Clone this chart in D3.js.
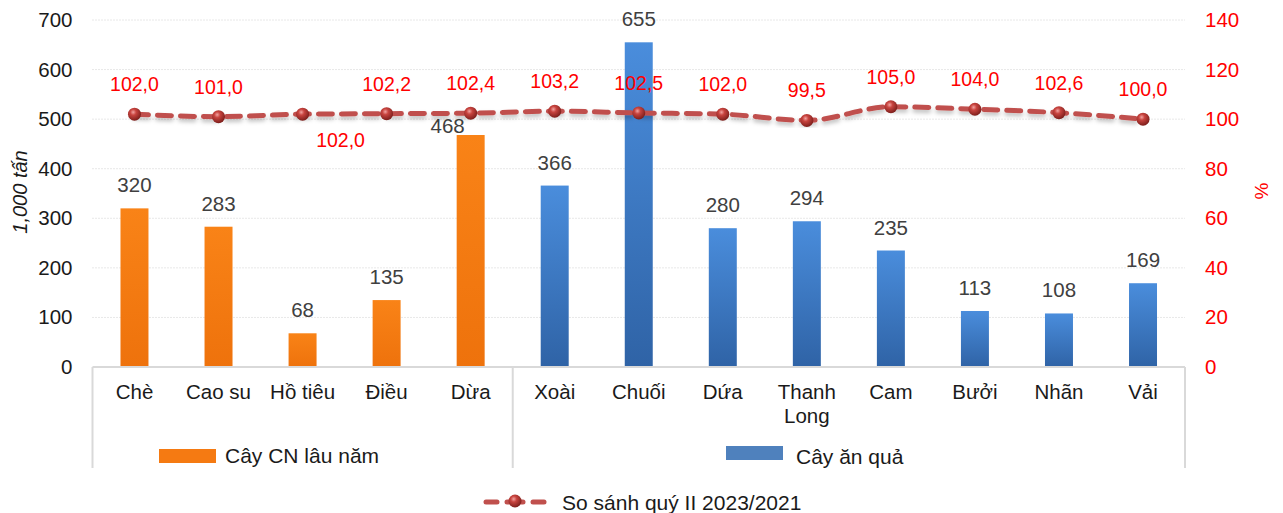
<!DOCTYPE html>
<html>
<head>
<meta charset="utf-8">
<script src="https://cdn.jsdelivr.net/npm/d3@7"></script>
<style>
  html, body { margin: 0; padding: 0; background: #fff; }
  svg { display: block; font-family: "Liberation Sans", Arial, sans-serif; }
</style>
</head>
<body>
<svg id="chart" width="1283" height="513"></svg>
<script>
// Sản lượng một số cây lâu năm, quý II 2023
const categories = ["Chè", "Cao su", "Hồ tiêu", "Điều", "Dừa", "Xoài", "Chuối", "Dứa", "Thanh Long", "Cam", "Bưởi", "Nhãn", "Vải"];
const groups = ["cn", "cn", "cn", "cn", "cn", "qua", "qua", "qua", "qua", "qua", "qua", "qua", "qua"];
const production = [320, 283, 68, 135, 468, 366, 655, 280, 294, 235, 113, 108, 169];
const comparison = [102.0, 101.0, 102.0, 102.2, 102.4, 103.2, 102.5, 102.0, 99.5, 105.0, 104.0, 102.6, 100.0];
const leftTicks = [0, 100, 200, 300, 400, 500, 600, 700];
const rightTicks = [0, 20, 40, 60, 80, 100, 120, 140];
const groupLabels = ["Cây CN lâu năm", "Cây ăn quả"];
const lineLabel = "So sánh quý II 2023/2021";

const svg = d3.select("#chart");
const margin = { left: 92.5, right: 1185, top: 20, bottom: 367 };

const x = d3.scaleBand().domain(categories).range([margin.left, margin.right]).paddingInner(0.667).paddingOuter(0.333);
const yL = d3.scaleLinear().domain([0, 700]).range([margin.bottom, margin.top]);
const yR = d3.scaleLinear().domain([0, 140]).range([margin.bottom, margin.top]);
const cx = d => x(d) + x.bandwidth() / 2;
const step = x.step();

const defs = svg.append("defs");
const gOr = defs.append("linearGradient").attr("id", "gOrange").attr("x1", 0).attr("y1", 0).attr("x2", 0).attr("y2", 1);
gOr.append("stop").attr("offset", "0%").attr("stop-color", "#F98317");
gOr.append("stop").attr("offset", "100%").attr("stop-color", "#EE720C");
const gBl = defs.append("linearGradient").attr("id", "gBlue").attr("x1", 0).attr("y1", 0).attr("x2", 0).attr("y2", 1);
gBl.append("stop").attr("offset", "0%").attr("stop-color", "#4A8DDC");
gBl.append("stop").attr("offset", "100%").attr("stop-color", "#2F63A6");
const gBall = defs.append("radialGradient").attr("id", "gBall").attr("cx", "40%").attr("cy", "35%").attr("r", "65%");
gBall.append("stop").attr("offset", "0%").attr("stop-color", "#F2A3A1");
gBall.append("stop").attr("offset", "35%").attr("stop-color", "#C8443F");
gBall.append("stop").attr("offset", "100%").attr("stop-color", "#7E1F1C");
const shadow = defs.append("filter").attr("id", "lineShadow").attr("x", "-5%").attr("y", "-50%").attr("width", "110%").attr("height", "200%");
shadow.append("feDropShadow").attr("dx", 0).attr("dy", 3).attr("stdDeviation", 2).attr("flood-color", "#000").attr("flood-opacity", 0.25);

// grid lines
svg.append("g").selectAll("line").data(leftTicks.slice(1)).join("line")
  .attr("x1", margin.left).attr("x2", margin.right)
  .attr("y1", d => yL(d)).attr("y2", d => yL(d))
  .attr("stroke", "#d0d0d0").attr("stroke-width", 1).attr("stroke-dasharray", "1,2");

// left axis
const axL = svg.append("g").attr("transform", `translate(${margin.left},0)`)
  .call(d3.axisLeft(yL).tickValues(leftTicks).tickSize(0).tickPadding(20));
axL.select(".domain").remove();
axL.selectAll("text").attr("font-size", 20.5).attr("fill", "#1a1a1a").attr("font-family", "Liberation Sans, Arial, sans-serif");

// right axis
const axR = svg.append("g").attr("transform", `translate(${margin.right},0)`)
  .call(d3.axisRight(yR).tickValues(rightTicks).tickSize(0).tickPadding(20));
axR.select(".domain").remove();
axR.selectAll("text").attr("font-size", 20.5).attr("fill", "#ff0000").attr("font-family", "Liberation Sans, Arial, sans-serif");

// axis titles
svg.append("text").attr("transform", `translate(27,${192}) rotate(-90)`)
  .attr("text-anchor", "middle").attr("font-size", 20).attr("font-style", "italic").attr("fill", "#1a1a1a").text("1,000 tấn");
svg.append("text").attr("transform", `translate(1268,${191}) rotate(-90)`)
  .attr("text-anchor", "middle").attr("font-size", 19).attr("fill", "#ff0000").text("%");

// bars
svg.append("g").selectAll("rect").data(categories).join("rect")
  .attr("x", d => x(d)).attr("width", x.bandwidth())
  .attr("y", (d, i) => yL(production[i]))
  .attr("height", (d, i) => yL(0) - yL(production[i]))
  .attr("fill", (d, i) => groups[i] === "cn" ? "url(#gOrange)" : "url(#gBlue)");

// bar value labels
svg.append("g").selectAll("text").data(categories).join("text")
  .attr("x", (d, i) => cx(d) + (production[i] === 468 ? -23 : 0))
  .attr("y", (d, i) => yL(production[i]) - (production[i] === 468 ? 2 : 16))
  .attr("text-anchor", "middle").attr("font-size", 20.5).attr("fill", "#404040")
  .text((d, i) => production[i]);

// category axis frame
const frame = svg.append("g").attr("stroke", "#d9d9d9").attr("stroke-width", 2).attr("fill", "none");
frame.append("line").attr("x1", margin.left).attr("x2", margin.right).attr("y1", yL(0)).attr("y2", yL(0));
const splitIdx = groups.indexOf("qua");
[margin.left, margin.left + splitIdx * step, margin.right].forEach(px => {
  frame.append("line").attr("x1", px).attr("x2", px).attr("y1", yL(0)).attr("y2", 468);
});

// category labels
const catG = svg.append("g");
categories.forEach(c => {
  const words = c === "Thanh Long" ? ["Thanh", "Long"] : [c];
  const t = catG.append("text").attr("text-anchor", "middle").attr("font-size", 20.5).attr("fill", "#1a1a1a")
    .attr("x", cx(c)).attr("y", 399);
  words.forEach((w, k) => t.append("tspan").attr("x", cx(c)).attr("dy", k === 0 ? 0 : 24).text(w));
});

// group legend entries
const legendCN = svg.append("g");
legendCN.append("rect").attr("x", 159).attr("y", 449).attr("width", 57).attr("height", 14).attr("fill", "#F57A12");
legendCN.append("text").attr("x", 225).attr("y", 463).attr("font-size", 21).attr("fill", "#1a1a1a").text(groupLabels[0]);
const legendQ = svg.append("g");
legendQ.append("rect").attr("x", 726).attr("y", 446).attr("width", 57).attr("height", 14).attr("fill", "#4F81BD");
legendQ.append("text").attr("x", 796).attr("y", 464).attr("font-size", 21).attr("fill", "#1a1a1a").text(groupLabels[1]);

// comparison line
const line = d3.line().x((d, i) => cx(categories[i])).y(d => yR(d)).curve(d3.curveMonotoneX);
svg.append("path").datum(comparison).attr("d", line)
  .attr("fill", "none").attr("stroke", "#C0504D").attr("stroke-width", 5)
  .attr("stroke-dasharray", "14,9").attr("stroke-linecap", "round")
  .attr("filter", "url(#lineShadow)");
svg.append("g").selectAll("circle").data(comparison).join("circle")
  .attr("cx", (d, i) => cx(categories[i])).attr("cy", d => yR(d)).attr("r", 6.5)
  .attr("fill", "url(#gBall)");

// comparison value labels
const fmt = v => d3.format(".1f")(v).replace(".", ",");
svg.append("g").selectAll("text").data(comparison).join("text")
  .attr("x", (d, i) => cx(categories[i]) + (i === 2 ? 38 : 0))
  .attr("y", (d, i) => i === 2 ? yR(d) + 33 : yR(d) - 23)
  .attr("text-anchor", "middle").attr("font-size", 19.5).attr("fill", "#ff0000")
  .text(d => fmt(d));

// line legend
const lg = svg.append("g");
lg.append("line").attr("x1", 486).attr("x2", 497).attr("y1", 502).attr("y2", 502)
  .attr("stroke", "#C0504D").attr("stroke-width", 5).attr("stroke-linecap", "round");
lg.append("line").attr("x1", 533).attr("x2", 544).attr("y1", 502).attr("y2", 502)
  .attr("stroke", "#C0504D").attr("stroke-width", 5).attr("stroke-linecap", "round");
lg.append("line").attr("x1", 507).attr("x2", 523).attr("y1", 502).attr("y2", 502)
  .attr("stroke", "#C0504D").attr("stroke-width", 5).attr("stroke-linecap", "round");
lg.append("circle").attr("cx", 515).attr("cy", 501).attr("r", 6.5).attr("fill", "url(#gBall)");
lg.append("text").attr("x", 562).attr("y", 510).attr("font-size", 21).attr("fill", "#1a1a1a").text(lineLabel);
</script>
</body>
</html>
